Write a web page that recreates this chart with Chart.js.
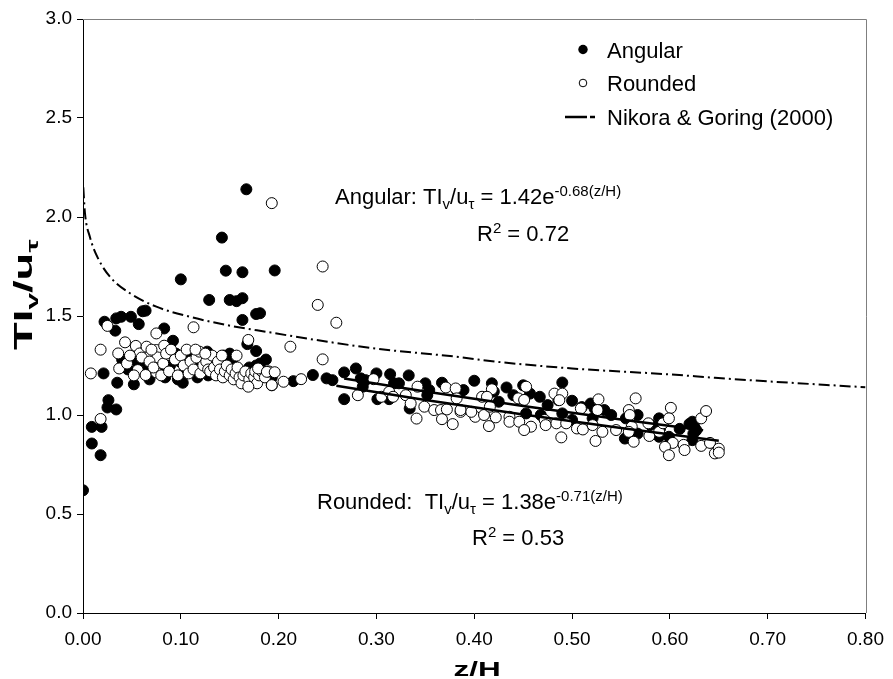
<!DOCTYPE html>
<html>
<head>
<meta charset="utf-8">
<title>TIv/u* against z/H</title>
<script src="https://cdn.jsdelivr.net/npm/chart.js@4.4.1/dist/chart.umd.min.js"></script>
<style>
  html, body { margin: 0; padding: 0; background: #fff; }
  #wrap { width: 893px; height: 679px; }
</style>
</head>
<body>
<div id="wrap"><canvas id="chart" width="893" height="679"></canvas></div>
<script>
// Angular bed (filled dots)
var angularZ = [
  0.000, 0.009, 0.009, 0.019, 0.018, 0.021, 0.022, 0.026, 0.025, 0.034, 0.035, 0.033, 0.034, 0.039, 0.049, 0.057, 0.061, 0.064, 0.052, 0.083, 0.092, 0.100, 0.102,
  0.040, 0.043, 0.046, 0.048, 0.055, 0.060, 0.063, 0.068, 0.073, 0.078, 0.084, 0.089, 0.095, 0.099, 0.104, 0.109, 0.112, 0.117, 0.121, 0.127, 0.131, 0.137,
  0.141, 0.144, 0.147, 0.150, 0.154, 0.159, 0.168, 0.177, 0.177, 0.182, 0.187, 0.193, 0.146, 0.128, 0.097, 0.080, 0.057, 0.118, 0.163, 0.170, 0.181,
  0.129, 0.142, 0.146, 0.150, 0.157, 0.163, 0.163, 0.163, 0.167, 0.177, 0.181, 0.196,
  0.215, 0.235, 0.249, 0.255, 0.267, 0.267, 0.279, 0.284, 0.286, 0.289, 0.300, 0.301, 0.314, 0.318, 0.323, 0.313, 0.333, 0.334, 0.350, 0.354, 0.352,
  0.367, 0.382, 0.389, 0.400, 0.418, 0.386, 0.420, 0.433, 0.425, 0.450, 0.457, 0.467, 0.453, 0.468, 0.490, 0.486, 0.500, 0.490, 0.500, 0.519, 0.523,
  0.533, 0.521, 0.555, 0.554, 0.567, 0.567, 0.589, 0.589, 0.590, 0.599, 0.623, 0.625, 0.624, 0.623, 0.627, 0.440, 0.475, 0.510, 0.540, 0.580, 0.610, 0.620
];
var angularTI = [
  0.62, 0.856, 0.94, 0.94, 0.797, 1.21, 1.471, 1.075, 1.038, 1.028, 1.163, 1.426, 1.488, 1.496, 1.496, 1.459, 1.524, 1.527, 1.155, 1.437, 1.375, 1.685, 1.163,
  1.28, 1.25, 1.23, 1.29, 1.27, 1.26, 1.24, 1.18, 1.27, 1.23, 1.19, 1.25, 1.31, 1.27, 1.22, 1.31, 1.25, 1.19, 1.30, 1.32, 1.26, 1.23,
  1.20, 1.30, 1.28, 1.31, 1.25, 1.22, 1.358, 1.323, 1.25, 1.21, 1.28, 1.19, 1.21, 1.20, 1.18, 1.29, 1.30, 1.23, 1.19, 1.24, 1.26,
  1.581, 1.896, 1.729, 1.581, 1.575, 1.59, 1.721, 1.48, 2.14, 1.51, 1.514, 1.73,
  1.171, 1.202, 1.185, 1.176, 1.215, 1.080, 1.235, 1.185, 1.143, 1.176, 1.21, 1.08, 1.206, 1.16, 1.16, 1.08, 1.20, 1.033, 1.16, 1.126, 1.10,
  1.163, 1.126, 1.126, 1.173, 1.16, 1.118, 1.118, 1.139, 1.067, 1.15, 1.108, 1.092, 1.008, 1.0, 1.164, 1.075, 1.072, 1.008, 0.975, 1.058, 1.033,
  1.025, 0.983, 0.983, 0.881, 1.0, 0.906, 0.983, 0.89, 0.932, 0.89, 0.966, 0.94, 0.906, 0.873, 0.923, 1.10, 1.05, 1.04, 1.0, 0.95, 0.93, 0.955
];

// Rounded bed (open circles)
var roundedZ = [
  0.008, 0.018, 0.025, 0.018, 0.036, 0.037, 0.043, 0.054, 0.058, 0.056, 0.064, 0.065, 0.075, 0.076, 0.075, 0.075, 0.113,
  0.045, 0.048, 0.052, 0.060, 0.068, 0.070, 0.072, 0.080, 0.083, 0.082, 0.085, 0.088, 0.090, 0.094, 0.097, 0.100, 0.103, 0.106, 0.108, 0.110,
  0.113, 0.116, 0.119, 0.120, 0.123, 0.126, 0.128, 0.130, 0.132, 0.134, 0.136, 0.138, 0.140, 0.143, 0.145, 0.147, 0.150, 0.152, 0.154, 0.156,
  0.158, 0.160, 0.162, 0.164, 0.166, 0.169, 0.170, 0.172, 0.175, 0.176, 0.178, 0.180, 0.183, 0.186, 0.190, 0.193, 0.115, 0.125, 0.142, 0.157,
  0.169, 0.179, 0.188, 0.196, 0.193, 0.205, 0.212, 0.223, 0.240, 0.245, 0.259, 0.193, 0.245,
  0.281, 0.297, 0.305, 0.313, 0.317, 0.330, 0.335, 0.342, 0.341, 0.349, 0.359, 0.366, 0.372, 0.367, 0.378, 0.386, 0.371, 0.381, 0.401, 0.410,
  0.415, 0.418, 0.408, 0.413, 0.382, 0.386, 0.397, 0.416, 0.422, 0.436, 0.436, 0.446, 0.445, 0.453, 0.451, 0.458, 0.451, 0.472, 0.473, 0.482,
  0.490, 0.487, 0.484, 0.494, 0.489, 0.509, 0.505, 0.511, 0.521, 0.527, 0.526, 0.531, 0.524, 0.545, 0.558, 0.559, 0.565, 0.561, 0.558, 0.563,
  0.578, 0.579, 0.589, 0.593, 0.601, 0.599, 0.603, 0.595, 0.599, 0.614, 0.615, 0.632, 0.637, 0.632, 0.641, 0.646, 0.650, 0.650
];
var roundedTI = [
  1.21, 1.33, 1.45, 0.98, 1.311, 1.235, 1.367, 1.349, 1.311, 1.227, 1.202, 1.345, 1.328, 1.291, 1.215, 1.412, 1.443,
  1.26, 1.30, 1.20, 1.29, 1.27, 1.33, 1.24, 1.20, 1.35, 1.26, 1.31, 1.22, 1.33, 1.28, 1.20, 1.30, 1.25, 1.33, 1.21, 1.27,
  1.23, 1.29, 1.32, 1.21, 1.25, 1.27, 1.23, 1.22, 1.30, 1.24, 1.20, 1.27, 1.23, 1.19, 1.22, 1.25, 1.20, 1.23, 1.18, 1.21,
  1.24, 1.19, 1.16, 1.20, 1.22, 1.379, 1.18, 1.21, 1.19, 1.22, 1.16, 1.20, 1.22, 1.19, 1.22, 1.15, 1.33, 1.31, 1.30, 1.30,
  1.143, 1.235, 1.218, 1.216, 1.151, 1.168, 1.345, 1.181, 1.556, 1.281, 1.466, 2.07, 1.75,
  1.10, 1.181, 1.092, 1.117, 1.092, 1.10, 1.058, 1.143, 0.982, 1.042, 1.025, 1.025, 1.028, 0.979, 0.954, 1.016, 1.139, 1.134, 0.991, 1.0,
  0.944, 1.13, 1.092, 1.092, 1.084, 1.025, 1.016, 1.042, 0.988, 0.991, 0.966, 0.966, 1.084, 1.143, 1.076, 0.941, 0.924, 0.975, 0.949, 1.108,
  1.108, 1.075, 0.958, 0.958, 0.887, 1.033, 0.932, 0.927, 0.949, 1.079, 1.025, 0.915, 0.869, 0.924, 1.025, 1.0, 1.084, 0.941, 0.915, 0.865,
  0.958, 0.894, 0.915, 0.958, 1.036, 0.983, 0.859, 0.839, 0.797, 0.849, 0.823, 0.983, 1.02, 0.844, 0.859, 0.806, 0.83, 0.81
];

// Nikora & Goring (2000) curve
var nikoraZ  = [0.0003, 0.002, 0.007, 0.0155, 0.029, 0.048, 0.075, 0.1085, 0.146, 0.19, 0.25, 0.30, 0.382, 0.423, 0.50, 0.60, 0.646, 0.70, 0.80];
var nikoraTI = [2.15, 2.02, 1.90, 1.79, 1.69, 1.615, 1.547, 1.497, 1.455, 1.418, 1.37, 1.335, 1.294, 1.269, 1.235, 1.205, 1.188, 1.17, 1.14];

// fitted curves
var fitAngularZ  = [0.267, 0.35, 0.45, 0.55, 0.634];
var fitAngularTI = [1.184, 1.119, 1.046, 0.977, 0.923];
var fitRoundedZ  = [0.259, 0.35, 0.45, 0.55, 0.65];
var fitRoundedTI = [1.148, 1.076, 1.003, 0.934, 0.870];

var FONT = '"Liberation Sans", Arial, Helvetica, sans-serif';
Chart.defaults.font.family = FONT;
Chart.defaults.color = '#000';

function pts(xs, ys) {
  return xs.map(function (x, i) { return { x: x, y: ys[i] }; });
}

// draws a run of text pieces (for sub/superscripts)
function richText(ctx, x, y, parts) {
  parts.forEach(function (p) {
    ctx.font = (p.bold ? 'bold ' : '') + p.size + 'px ' + FONT;
    ctx.fillText(p.text, x, y + (p.dy || 0));
    x += ctx.measureText(p.text).width;
  });
}

var decor = {
  id: 'decor',
  beforeDatasetsDraw: function (chart) {
    var ctx = chart.ctx, a = chart.chartArea;
    ctx.save();
    ctx.strokeStyle = '#7f7f7f';
    ctx.lineWidth = 1;
    ctx.beginPath();
    ctx.moveTo(a.left, Math.round(a.top) + 0.5);
    ctx.lineTo(Math.round(a.right) + 0.5, Math.round(a.top) + 0.5);
    ctx.lineTo(Math.round(a.right) + 0.5, a.bottom);
    ctx.stroke();
    ctx.restore();
  },
  afterDraw: function (chart) {
    var ctx = chart.ctx;
    ctx.save();
    ctx.fillStyle = '#000';
    ctx.strokeStyle = '#000';
    ctx.textBaseline = 'alphabetic';
    ctx.textAlign = 'left';

    // legend
    ctx.font = '22px ' + FONT;
    ctx.beginPath();
    ctx.arc(583, 49.5, 4.7, 0, Math.PI * 2);
    ctx.fill();
    ctx.fillText('Angular', 607, 57.5);

    ctx.beginPath();
    ctx.lineWidth = 1;
    ctx.arc(583, 83, 3.8, 0, Math.PI * 2);
    ctx.stroke();
    ctx.fillText('Rounded', 607, 91);

    ctx.lineWidth = 2.5;
    ctx.beginPath();
    ctx.moveTo(565, 117); ctx.lineTo(587, 117);
    ctx.moveTo(590, 117); ctx.lineTo(595, 117);
    ctx.stroke();
    ctx.fillText('Nikora & Goring (2000)', 607, 124.5);

    // fit equations
    richText(ctx, 335, 204, [
      { text: 'Angular: TI', size: 22 }, { text: 'v', size: 15, dy: 5 },
      { text: '/u', size: 22 }, { text: 'τ', size: 15, dy: 5 },
      { text: ' = 1.42e', size: 22 }, { text: '-0.68(z/H)', size: 15, dy: -8 }
    ]);
    richText(ctx, 477, 241, [
      { text: 'R', size: 22 }, { text: '2', size: 15, dy: -8 }, { text: ' = 0.72', size: 22 }
    ]);
    richText(ctx, 317, 509, [
      { text: 'Rounded:  TI', size: 22 }, { text: 'v', size: 15, dy: 5 },
      { text: '/u', size: 22 }, { text: 'τ', size: 15, dy: 5 },
      { text: ' = 1.38e', size: 22 }, { text: '-0.71(z/H)', size: 15, dy: -8 }
    ]);
    richText(ctx, 472, 545, [
      { text: 'R', size: 22 }, { text: '2', size: 15, dy: -8 }, { text: ' = 0.53', size: 22 }
    ]);

    // axis titles
    ctx.save();
    ctx.translate(477, 676);
    ctx.scale(1.5, 1);
    ctx.textAlign = 'center';
    ctx.font = 'bold 21px ' + FONT;
    ctx.fillText('z/H', 0, 0);
    ctx.restore();

    ctx.save();
    ctx.translate(32, 350);
    ctx.rotate(-Math.PI / 2);
    ctx.scale(1.75, 1);
    richText(ctx, 0, 0, [
      { text: 'TI', size: 26, bold: true }, { text: 'v', size: 17, bold: true, dy: 6 },
      { text: '/u', size: 26, bold: true }, { text: 'τ', size: 17, bold: true, dy: 6 }
    ]);
    ctx.restore();

    ctx.restore();
  }
};

var ctx = document.getElementById('chart').getContext('2d');

var data = {
  datasets: [
    {
      label: 'Angular fit',
      data: pts(fitAngularZ, fitAngularTI),
      showLine: true, borderColor: '#000', borderWidth: 2.5, pointRadius: 0, order: 0
    },
    {
      label: 'Rounded fit',
      data: pts(fitRoundedZ, fitRoundedTI),
      showLine: true, borderColor: '#000', borderWidth: 2.5, pointRadius: 0, order: 0
    },
    {
      label: 'Rounded',
      data: pts(roundedZ, roundedTI),
      pointRadius: 5.5, pointBorderWidth: 1, pointBackgroundColor: '#fff', pointBorderColor: '#000', order: 1
    },
    {
      label: 'Angular',
      data: pts(angularZ, angularTI),
      pointRadius: 5.5, pointBorderWidth: 1, pointBackgroundColor: '#000', pointBorderColor: '#000', order: 2
    },
    {
      label: 'Nikora & Goring (2000)',
      data: pts(nikoraZ, nikoraTI),
      showLine: true, borderColor: '#000', borderWidth: 2, borderDash: [11, 4, 2, 4],
      cubicInterpolationMode: 'monotone', pointRadius: 0, order: 3
    }
  ]
};

var options = {
  responsive: false,
  animation: false,
  events: [],
  devicePixelRatio: 1,
  layout: { padding: { top: 19, right: 21, left: 0, bottom: 0 } },
  plugins: { legend: { display: false }, tooltip: { enabled: false } },
  scales: {
    x: {
      type: 'linear', min: 0, max: 0.8,
      afterFit: function (scale) { scale.height = 66; },
      ticks: {
        stepSize: 0.1, padding: 9, color: '#000', font: { size: 19 },
        callback: function (v) { return v.toFixed(2); }
      },
      grid: { drawOnChartArea: false, drawTicks: true, tickLength: 6, color: '#000' },
      border: { color: '#000', width: 1 }
    },
    y: {
      type: 'linear', min: 0, max: 3,
      afterFit: function (scale) { scale.width = 83; },
      ticks: {
        stepSize: 0.5, padding: 5, color: '#000', font: { size: 19 },
        callback: function (v) { return v.toFixed(1); }
      },
      grid: { drawOnChartArea: false, drawTicks: true, tickLength: 6, color: '#000' },
      border: { color: '#000', width: 1 }
    }
  }
};

var myChart = new Chart(ctx, {
  type: 'scatter',
  data: data,
  options: options,
  plugins: [decor]
});
</script>
</body>
</html>
